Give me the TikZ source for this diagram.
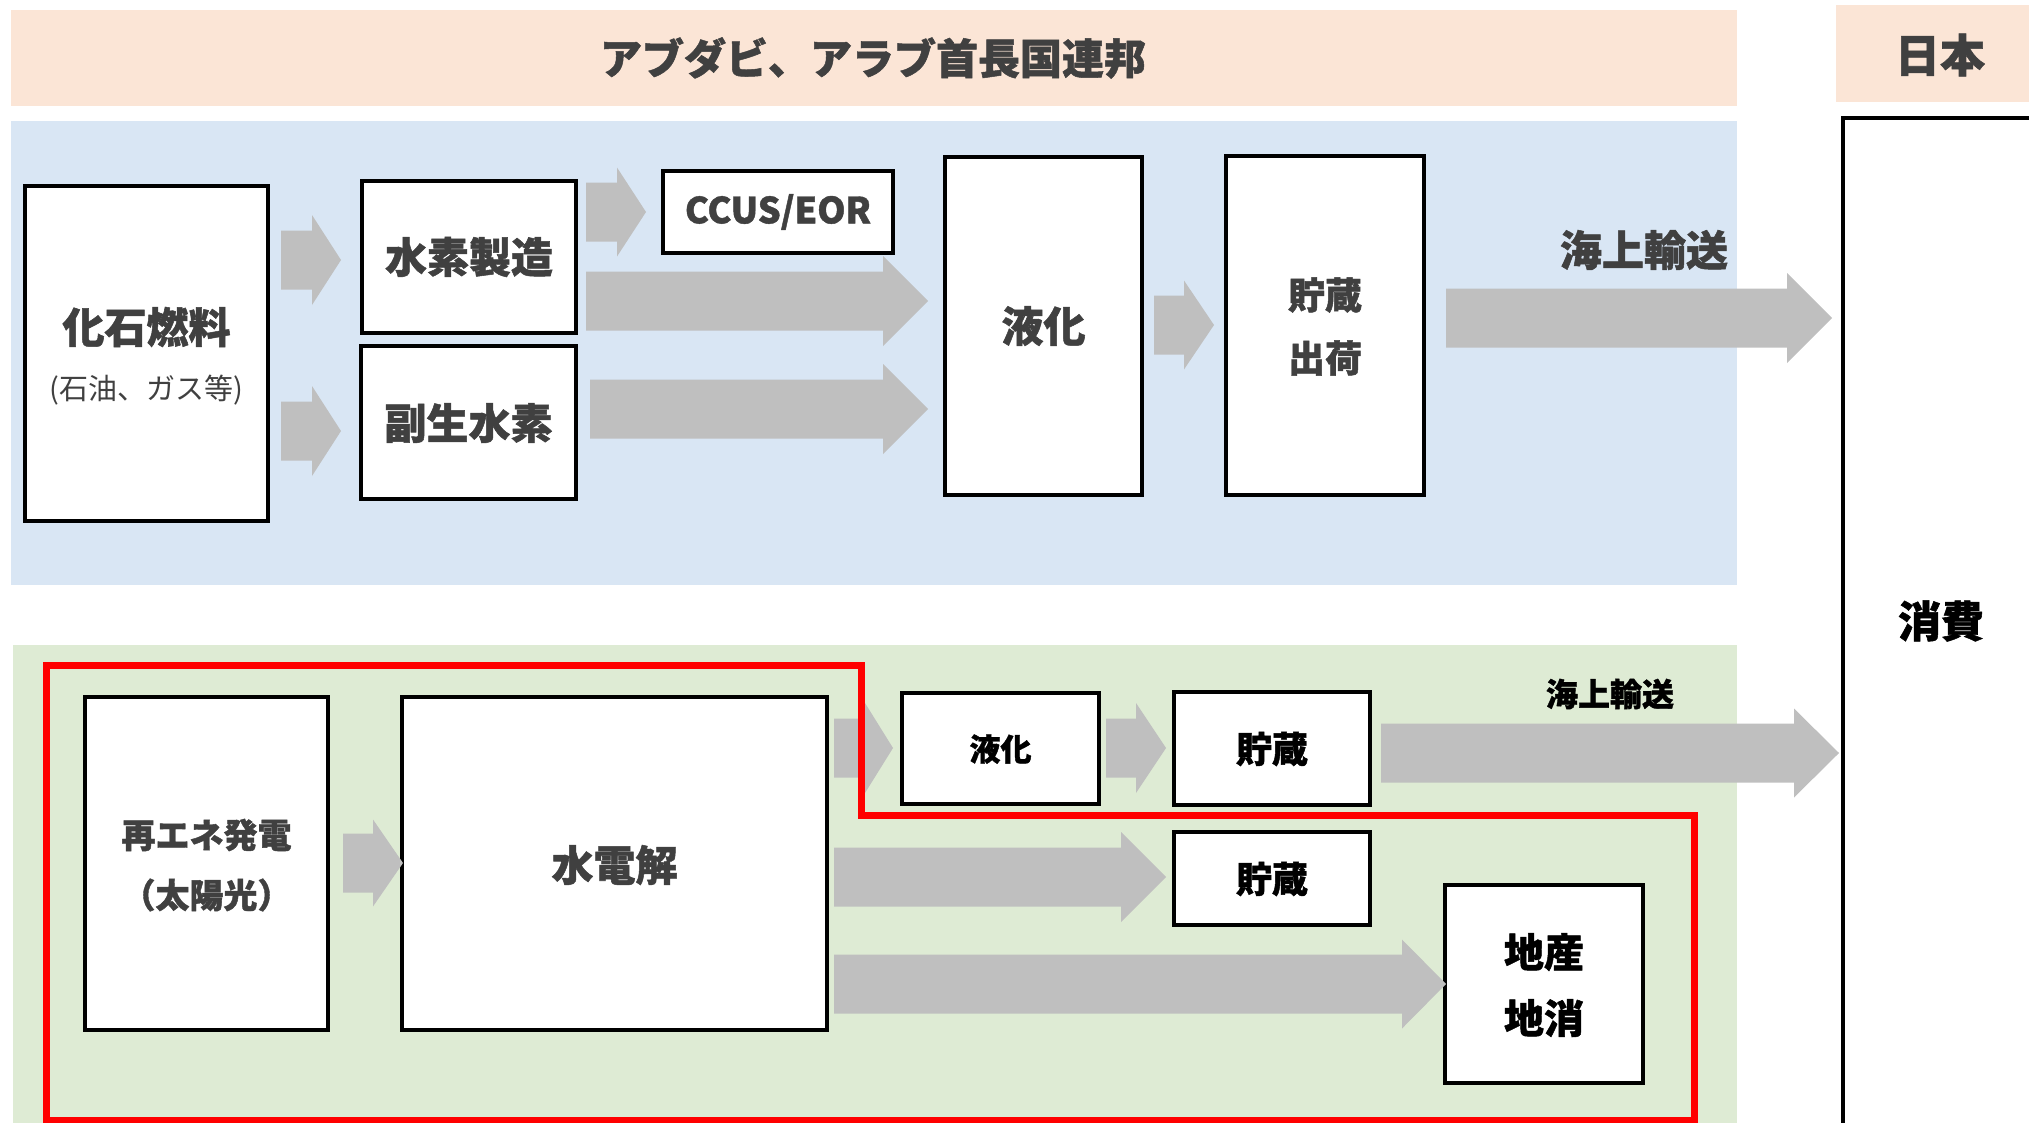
\documentclass[tikz,border=0pt]{standalone}
\usepackage{fontspec}
\setmainfont{Noto Sans CJK JP}[BoldFeatures={FakeBold=1.2}]
\definecolor{peach}{HTML}{FBE5D6}
\definecolor{bluebg}{HTML}{D9E6F4}
\definecolor{greenbg}{HTML}{DEEBD4}
\definecolor{arrowgray}{HTML}{BFBFBF}
\definecolor{textgray}{HTML}{404040}
\newcommand{\fs}[1]{\fontsize{#1}{#1}\selectfont}
\newcommand{\blockarr}[6]{%
  \fill[arrowgray] (#1,#3-#4) -- (#2-#6,#3-#4) -- (#2-#6,#3-#5) -- (#2,#3)
    -- (#2-#6,#3+#5) -- (#2-#6,#3+#4) -- (#1,#3+#4) -- cycle;}
\tikzset{
  box/.style={draw=black, line width=4pt, fill=white, inner sep=0pt},
  txt/.style={inner sep=0pt, text=textgray, font=\bfseries},
  txtk/.style={inner sep=0pt, text=black, font=\bfseries},
  redline/.style={draw=red, line width=7pt},
}
\begin{document}
\begin{tikzpicture}[x=1pt,y=-1pt]
\clip (0,0) rectangle (2029,1122);
\useasboundingbox (0,0) rectangle (2029,1122);
% backgrounds
\fill[peach] (11,10) rectangle (1737,106);
\fill[peach] (1836,5) rectangle (2060,102);
\fill[bluebg] (11,121) rectangle (1737,585);
\fill[greenbg] (13,645) rectangle (1737,1140);
\node[txt] (hdr) at (873,58) {\fs{42}アブダビ、アラブ首長国連邦};
\node[txt] (jp) at (1940,55) {\fs{45}日本};
% top boxes
\node[box, minimum width=243pt, minimum height=335pt] (fossil) at (146.5,353.5) {};
\node[txt] (fossilt) at (146.5,327) {\fs{42}化石燃料};
\node[inner sep=0pt, text=textgray] (fossils) at (146.5,390) {\fs{29}(石油、ガス等)};
\node[box, minimum width=214pt, minimum height=152pt] (h2prod) at (469,257) {};
\node[txt] (h2prodt) at (469,257) {\fs{42}水素製造};
\node[box, minimum width=215pt, minimum height=153pt] (byprod) at (468.5,422.5) {};
\node[txt] (byprodt) at (468.5,423) {\fs{42}副生水素};
\node[box, minimum width=230pt, minimum height=82pt] (ccus) at (778,212) {};
\node[txt] (ccust) at (778,212) {\fs{36}CCUS/EOR};
\node[box, minimum width=197pt, minimum height=338pt] (liq1) at (1043.5,326) {};
\node[txt] (liq1t) at (1043.5,326) {\fs{42}液化};
\node[box, minimum width=198pt, minimum height=339pt] (store1) at (1325,325.5) {};
\node[txt] (store1a) at (1325,295) {\fs{37}貯蔵};
\node[txt] (store1b) at (1325,358) {\fs{37}出荷};
\node[txt] (sea1) at (1644,250) {\fs{42}海上輸送};
% consumption
\node[box, minimum width=217pt, minimum height=1040pt] (consume) at (1951.5,638) {};
\node[txtk] (consumet) at (1941,621) {\fs{43}消費};
% bottom boxes
\node[box, minimum width=243pt, minimum height=333pt] (renew) at (206.5,863.5) {};
\node[txt] (renewa) at (206.5,835) {\fs{34}再エネ発電};
\node[txt] (renewb) at (206.5,895) {\fs{34}（太陽光）};
\node[box, minimum width=425pt, minimum height=333pt] (elec) at (614.5,863.5) {};
\node[txt] (elect) at (614.5,865) {\fs{42}水電解};
\node[box, minimum width=197pt, minimum height=111pt] (liq2) at (1000.5,748.5) {};
\node[txtk] (liq2t) at (1000.5,749) {\fs{31}液化};
\node[box, minimum width=196pt, minimum height=113pt] (store2) at (1272,748.5) {};
\node[txtk] (store2t) at (1272,749) {\fs{36}貯蔵};
\node[box, minimum width=196pt, minimum height=93pt] (store3) at (1272,878.5) {};
\node[txtk] (store3t) at (1272,879) {\fs{36}貯蔵};
\node[box, minimum width=198pt, minimum height=198pt] (local) at (1544,984) {};
\node[txtk] (locala) at (1544,952) {\fs{40}地産};
\node[txtk] (localb) at (1544,1018) {\fs{40}地消};
\node[txtk] (sea2) at (1610,694) {\fs{32}海上輸送};
% arrows top
\blockarr{281}{341}{260}{29.5}{45}{29}
\blockarr{281}{341}{431}{29.5}{45}{29}
\blockarr{586}{646}{212}{29.5}{44.5}{29}
\blockarr{586}{928}{301}{29.5}{45}{45}
\blockarr{590}{928}{409}{29.5}{45}{45}
\blockarr{1154}{1214}{325}{29.5}{44.5}{30}
\blockarr{1446}{1832}{318}{29.5}{45}{45}
% arrows bottom
\blockarr{343}{403}{863}{29.5}{43.5}{30}
\blockarr{834}{893}{748}{29.5}{45}{28}
\blockarr{1106}{1166}{748}{29.5}{45}{30}
\blockarr{1381}{1839}{753}{29.5}{44.5}{45}
\blockarr{834}{1166}{877}{29.5}{45}{45}
\blockarr{834}{1446}{984}{29.5}{44.5}{44}
% red outline
\draw[redline] (46,665) -- (861,665) -- (861,815.5) -- (1694,815.5) -- (1694,1120) -- (46,1120) -- cycle;
\end{tikzpicture}
\end{document}
